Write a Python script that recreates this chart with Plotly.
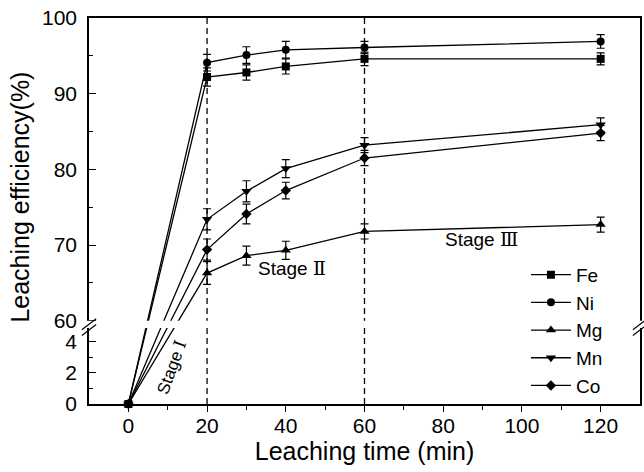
import plotly.graph_objects as go

# ---- data ----
time_min = [0, 20, 30, 40, 60, 120]
fe = [0, 92.2, 92.8, 93.6, 94.6, 94.6]
ni = [0, 94.1, 95.1, 95.8, 96.1, 96.9]
mg = [0, 66.3, 68.6, 69.3, 71.8, 72.7]
mn = [0, 73.4, 77.1, 80.1, 83.2, 85.9]
co = [0, 69.4, 74.1, 77.2, 81.5, 84.8]
fe_err = [0, 1.2, 1.0, 1.0, 0.9, 0.8]
ni_err = [0, 1.1, 1.1, 1.1, 0.8, 0.9]
mg_err = [0, 1.5, 1.25, 1.2, 1.0, 1.0]
mn_err = [0, 1.4, 1.4, 1.2, 1.0, 0.9]
co_err = [0, 1.4, 1.3, 1.1, 1.0, 1.0]
series_names = ["Fe", "Ni", "Mg", "Mn", "Co"]
symbols = ["square", "circle", "triangle-up", "triangle-down", "diamond"]
y_lower_ticks = [0, 2, 4]
y_lower_minor = [1, 3]
y_upper_ticks = [60, 70, 80, 90, 100]
y_upper_minor = [65, 75, 85, 95]
x_ticks = [0, 20, 40, 60, 80, 100, 120]
x_minor = [10, 30, 50, 70, 90, 110]
stage_lines = [20, 60]

# ---- broken y-axis mapping (lower segment 0..5, upper 60..100) ----
Y0 = 49.0      # display position of value 0
K = 2.05       # lower segment scale relative to upper
BREAK_LO, BREAK_HI = 59.05, 60.0


def disp(v):
    return v if v >= 50 else Y0 + v * K


def disp_err(vals, errs):
    return [e if v >= 50 else e * K for v, e in zip(vals, errs)]


FONT = "Arial, Liberation Sans, sans-serif"
fig = go.Figure()

all_vals = [fe, ni, mg, mn, co]
all_errs = [fe_err, ni_err, mg_err, mn_err, co_err]
for name, sym, vals, errs in zip(series_names, symbols, all_vals, all_errs):
    fig.add_trace(go.Scatter(
        x=time_min, y=[disp(v) for v in vals], name=name,
        mode="lines+markers",
        line=dict(color="black", width=1.3),
        marker=dict(symbol=sym, size=8 if sym not in ("triangle-up", "triangle-down") else 9,
                    color="black"),
        error_y=dict(type="data", array=disp_err(vals, errs), visible=True,
                     color="black", thickness=1.2, width=4),
        cliponaxis=False,
    ))

shapes = []
for xv in stage_lines:
    shapes.append(dict(type="line", xref="x", yref="paper", x0=xv, x1=xv, y0=0, y1=1,
                       line=dict(color="black", width=1.3, dash="6px,4px"), layer="below"))
# white band hiding the break
shapes.append(dict(type="rect", xref="paper", yref="y", x0=-0.006, x1=1.006,
                   y0=BREAK_LO, y1=BREAK_HI, fillcolor="white", line=dict(width=0),
                   layer="above"))
# break marks on left and right axes
for xp in (0.0, 1.0):
    for dy in (0.0, -0.75):
        shapes.append(dict(type="line", xref="paper", yref="y",
                           x0=xp - 0.013, x1=xp + 0.013,
                           y0=BREAK_LO - 0.25 + dy, y1=BREAK_HI + 0.25 + dy,
                           line=dict(color="black", width=1.2), layer="above"))
fig.update_layout(shapes=shapes)

ROMAN = "font-family:'DejaVu Serif'"
fig.add_annotation(x=10.9, y=disp(2.4), text=f"Stage <span style=\"{ROMAN}\">Ⅰ</span>",
                   showarrow=False, textangle=-70,
                   font=dict(family=FONT, size=17, color="black"))
fig.add_annotation(x=41.5, y=67.0, text=f"Stage <span style=\"{ROMAN}\">Ⅱ</span>",
                   showarrow=False, font=dict(family=FONT, size=19, color="black"))
fig.add_annotation(x=89.6, y=70.8, text=f"Stage <span style=\"{ROMAN}\">Ⅲ</span>",
                   showarrow=False, font=dict(family=FONT, size=19, color="black"))
# y-axis title (placed as in the reference, slightly above the axis centre)
fig.add_annotation(xref="paper", yref="paper", x=-0.125, y=0.535,
                   xanchor="center", yanchor="middle",
                   text="Leaching efficiency(%)", showarrow=False, textangle=-90,
                   font=dict(family=FONT, size=25, color="black"))

fig.update_layout(
    width=644, height=472,
    margin=dict(l=89, r=4, t=18, b=68, autoexpand=False),
    paper_bgcolor="white", plot_bgcolor="white",
    font=dict(family=FONT, color="black", size=21),
    showlegend=True,
    legend=dict(x=0.793, xanchor="left", y=0.384, yanchor="top",
                bgcolor="rgba(0,0,0,0)", font=dict(size=19), tracegroupgap=0,
                itemwidth=40),
    xaxis=dict(range=[-10, 130], tickvals=x_ticks, ticks="outside", ticklen=6,
               tickwidth=1.2, tickcolor="black", ticklabelstandoff=-4,
               ticklabeloverflow="allow", automargin=False,
               minor=dict(tickvals=x_minor, ticks="outside", ticklen=4, tickcolor="black",
                          tickwidth=1.2),
               showline=True, linecolor="black", linewidth=1.5, mirror=True,
               showgrid=False, zeroline=False,
               tickfont=dict(size=21),
               title=dict(text="Leaching time (min)", font=dict(size=25), standoff=6)),
    yaxis=dict(range=[Y0, 100],
               tickvals=[disp(v) for v in y_lower_ticks] + y_upper_ticks,
               ticktext=[str(v) for v in y_lower_ticks + y_upper_ticks],
               ticks="inside", ticklen=7, tickwidth=1.2, tickcolor="black",
               ticklabelstandoff=6, ticklabeloverflow="allow", automargin=False,
               minor=dict(tickvals=[disp(v) for v in y_lower_minor] + y_upper_minor,
                          ticks="inside", ticklen=4, tickcolor="black", tickwidth=1.2),
               showline=True, linecolor="black", linewidth=1.5, mirror=True,
               showgrid=False, zeroline=False,
               tickfont=dict(size=21)),
)

# remove the default page margin so the 644x472 figure fills the window exactly
fig.write_html("out.html", config={"displayModeBar": False},
               post_script="document.body.style.margin='0';")
